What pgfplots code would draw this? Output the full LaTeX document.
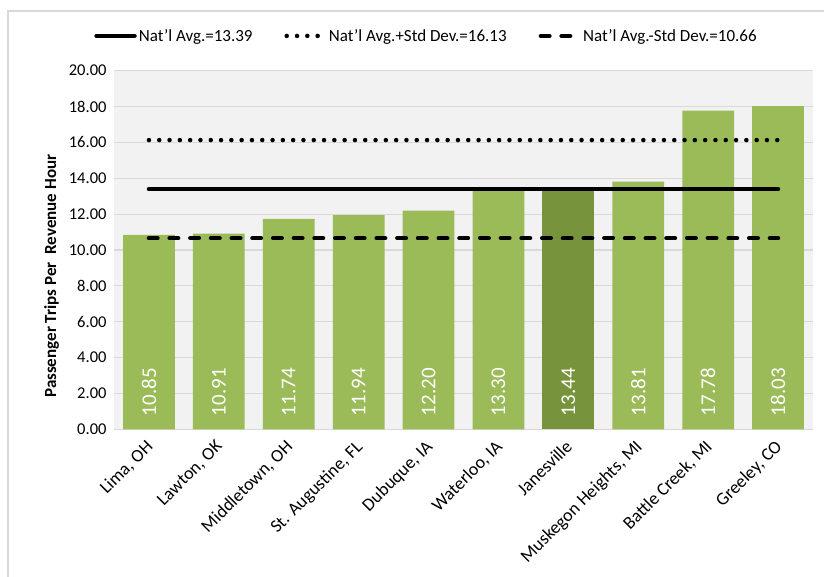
\documentclass[border=0pt]{standalone}
\usepackage{pgfplots}
\pgfplotsset{compat=1.18}
\usepackage{fontspec}
\setmainfont{Carlito}
\definecolor{barg}{HTML}{9BBB59}
\definecolor{bard}{HTML}{77933C}
\definecolor{bgc}{HTML}{F2F2F2}
\definecolor{gridc}{HTML}{D9D9D9}
\definecolor{framec}{HTML}{D9D9D9}
\begin{document}
\begin{tikzpicture}
\useasboundingbox (0,0) rectangle (824bp,577bp);
\draw[framec, line width=1.3bp] (8bp,0bp) -- (8bp,566bp) -- (824bp,566bp);
\begin{axis}[
  at={(114bp,147.7bp)}, anchor=south west,
  scale only axis, width=699bp, height=358.6bp,
  xmin=-0.5, xmax=9.5, ymin=0, ymax=20,
  axis background/.style={fill=bgc},
  axis x line=bottom, axis y line=left,
  x axis line style={draw=gridc, line width=1.2bp, -},
  y axis line style={draw=none, -},
  ytick={0,2,...,20},
  ymajorgrids, major grid style={gridc, line width=1.1bp},
  major tick length=0pt,
  tick style={draw=none},
  /pgf/number format/assume math mode=true,
  yticklabel style={/pgf/number format/fixed, /pgf/number format/precision=2, /pgf/number format/fixed zerofill, font=\fontsize{16.5bp}{18bp}\selectfont, xshift=-4bp},
  xtick={0,...,9},
  xticklabels={{Lima, OH},{Lawton, OK},{Middletown, OH},{St. Augustine, FL},{Dubuque, IA},{Waterloo, IA},{Janesville},{Muskegon Heights, MI},{Battle Creek, MI},{Greeley, CO}},
  xticklabel style={xshift=-4bp, yshift=-8bp, rotate=45, anchor=north east, font=\fontsize{18bp}{20bp}\selectfont, inner sep=1bp},
  ylabel={\bfseries Passenger Trips Per\ \ Revenue Hour},
  every axis y label/.style={at={(ticklabel cs:0.427)}, rotate=90, anchor=south, yshift=3bp, font=\fontsize{17bp}{20bp}\selectfont},
  legend columns=3,
  legend style={at={(0.447,1.097)}, anchor=center, draw=none, fill=none,
    font=\fontsize{17bp}{19bp}\selectfont,
    /tikz/every even column/.append style={column sep=30bp}},
  legend image code/.code={\draw[#1] (0bp,0bp) -- (38bp,0bp);},
]
\addplot[ybar, bar width=0.74, bar shift=0pt, fill=barg, draw=none, forget plot]
  coordinates {(0,10.85) (1,10.91) (2,11.74) (3,11.94) (4,12.20) (5,13.30) (7,13.81) (8,17.78) (9,18.03)};
\addplot[ybar, bar width=0.74, bar shift=0pt, fill=bard, draw=none, forget plot]
  coordinates {(6,13.44)};
\addplot[draw=none, mark=none, forget plot, nodes near coords, point meta=explicit symbolic,
  nodes near coords style={rotate=90, anchor=west, inner sep=0pt, text=white, font=\fontsize{21bp}{24bp}\selectfont}]
  coordinates {(0,0.72)[10.85] (1,0.72)[10.91] (2,0.72)[11.74] (3,0.72)[11.94] (4,0.72)[12.20] (5,0.72)[13.30] (6,0.72)[13.44] (7,0.72)[13.81] (8,0.72)[17.78] (9,0.72)[18.03]};
\addplot[black, line width=4.5bp, line cap=round] coordinates {(0,13.39) (9,13.39)};
\addlegendentry{Nat'l Avg.=13.39}
\addplot[black, line width=4.5bp, line cap=round, dash pattern=on 0bp off 10.3bp] coordinates {(0,16.13) (9,16.13)};
\addlegendentry{Nat'l Avg.+Std Dev.=16.13}
\addplot[black, line width=4.5bp, line cap=round, dash pattern=on 8.5bp off 12.2bp] coordinates {(0,10.66) (9,10.66)};
\addlegendentry{Nat'l Avg.-Std Dev.=10.66}
\end{axis}
\end{tikzpicture}
\end{document}
